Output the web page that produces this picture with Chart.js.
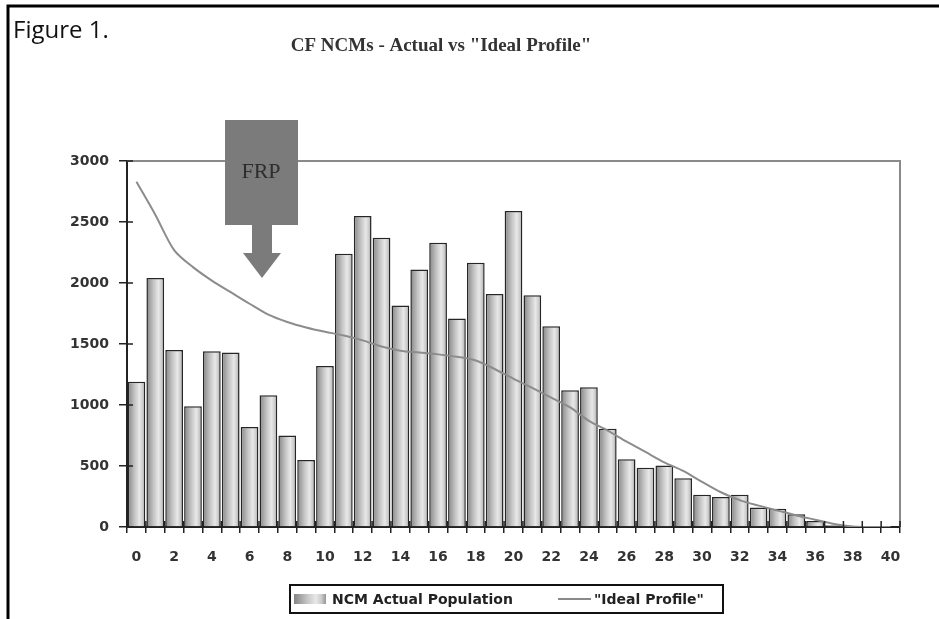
<!DOCTYPE html>
<html>
<head>
<meta charset="utf-8">
<title>CF NCMs - Actual vs "Ideal Profile"</title>
<script src="https://cdn.jsdelivr.net/npm/chart.js@4.4.1/dist/chart.umd.min.js"></script>
<style>
  html, body { margin: 0; padding: 0; background: #fff; }
  #grafico { display: block; }
</style>
</head>
<body>
<canvas id="grafico" width="939" height="619"></canvas>
<script>
// Categories (years of service 0..40)
const categorias = ['0', '1', '2', '3', '4', '5', '6', '7', '8', '9', '10',
    '11', '12', '13', '14', '15', '16', '17', '18', '19', '20',
    '21', '22', '23', '24', '25', '26', '27', '28', '29', '30',
    '31', '32', '33', '34', '35', '36', '37', '38', '39', '40'];

// NCM Actual Population (bars)
const poblacionActual = [1190, 2040, 1450, 990, 1440, 1430, 820, 1080, 750, 550, 1320,
    2240, 2550, 2370, 1815, 2110, 2330, 1710, 2165, 1910, 2590,
    1900, 1645, 1120, 1145, 805, 555, 485, 505, 400, 265,
    245, 265, 160, 150, 105, 50, 15, 5, 0, 0];

// "Ideal Profile" (line)
const perfilIdeal = [2830, 2560, 2270, 2130, 2020, 1925, 1830, 1740, 1680, 1635, 1600,
    1570, 1530, 1480, 1445, 1430, 1415, 1395, 1365, 1295, 1215,
    1140, 1060, 980, 870, 790, 700, 615, 530, 460, 370,
    285, 220, 175, 135, 95, 60, 25, 5, 0, 0];

// Y axis tick labels
const marcasY = [0, 500, 1000, 1500, 2000, 2500, 3000];

const etiquetaBarras = 'NCM Actual Population';
const etiquetaLinea = '"Ideal Profile"';
const tituloGrafico = 'CF NCMs - Actual vs "Ideal Profile"';

document.addEventListener('DOMContentLoaded', function() {
    var fuenteEjes = 'bold 14px "DejaVu Sans", Arial, sans-serif';

    // Gradient for the 3D-looking columns
    function rellenoBarra(x, w, ctx) {
        var g = ctx.createLinearGradient(x - w / 2, 0, x + w / 2, 0);
        g.addColorStop(0, '#858585');
        g.addColorStop(0.4, '#c4c4c4');
        g.addColorStop(0.68, '#e8e8e8');
        g.addColorStop(0.85, '#cdcdcd');
        g.addColorStop(1, '#959595');
        return g;
    }

    var decoraciones = {
        id: 'decoraciones',
        beforeDraw: function(chart) {
            var c = chart.ctx;
            c.save();
            c.fillStyle = '#fff';
            c.fillRect(0, 0, chart.width, chart.height);
            c.restore();
        },
        afterDraw: function(chart) {
            var c = chart.ctx;
            var a = chart.chartArea;
            var sy = chart.scales.y;
            c.save();

            // outer frame
            c.strokeStyle = '#000';
            c.lineWidth = 3;
            c.beginPath();
            c.moveTo(8, 619);
            c.lineTo(8, 6);
            c.lineTo(939, 6);
            c.stroke();

            // Figure 1.
            c.fillStyle = '#111';
            c.font = '24px "Liberation Sans Narrow", "Open Sans", sans-serif';
            c.textBaseline = 'alphabetic';
            c.textAlign = 'left';
            c.fillText('Figure 1.', 13, 38);

            // title
            c.fillStyle = '#333';
            c.font = 'bold 19px "Liberation Serif", "DejaVu Serif", serif';
            c.textAlign = 'center';
            c.fillText(tituloGrafico, 441, 51);

            // plot area border (top + right)
            c.strokeStyle = '#8a8a8a';
            c.lineWidth = 2;
            c.beginPath();
            c.moveTo(a.left, a.top);
            c.lineTo(a.right, a.top);
            c.lineTo(a.right, a.bottom);
            c.stroke();

            // inner half of the crossing tick marks
            c.strokeStyle = '#222';
            c.lineWidth = 1.5;
            c.beginPath();
            marcasY.forEach(function(v) {
                var y = sy.getPixelForValue(v);
                c.moveTo(a.left, y);
                c.lineTo(a.left + 6, y);
            });
            var ancho = (a.right - a.left) / categorias.length;
            for (var i = 0; i <= categorias.length; i++) {
                var xb = a.left + i * ancho;
                c.moveTo(xb, a.bottom);
                c.lineTo(xb, a.bottom - 6);
            }
            c.stroke();

            // FRP box with arrow
            c.fillStyle = '#7b7b7b';
            c.fillRect(225, 120, 73, 105);
            c.beginPath();
            c.moveTo(252, 225);
            c.lineTo(272, 225);
            c.lineTo(272, 253);
            c.lineTo(281, 253);
            c.lineTo(262, 278);
            c.lineTo(243, 253);
            c.lineTo(252, 253);
            c.closePath();
            c.fill();
            c.fillStyle = '#2e2e2e';
            c.font = '22px "Liberation Serif", "DejaVu Serif", serif';
            c.textAlign = 'center';
            c.textBaseline = 'middle';
            c.fillText('FRP', 261, 172);

            // legend
            c.fillStyle = '#fff';
            c.fillRect(290, 585, 433, 28);
            c.strokeStyle = '#111';
            c.lineWidth = 2;
            c.strokeRect(290, 585, 433, 28);
            c.fillStyle = rellenoBarra(310, 32, c);
            c.fillRect(294, 594, 32, 10);
            c.strokeStyle = '#8a8a8a';
            c.lineWidth = 2;
            c.beginPath();
            c.moveTo(558, 599);
            c.lineTo(591, 599);
            c.stroke();
            c.fillStyle = '#222';
            c.font = fuenteEjes;
            c.textAlign = 'left';
            c.textBaseline = 'middle';
            c.fillText(etiquetaBarras, 332, 600);
            c.fillText(etiquetaLinea, 594, 600);

            c.restore();
        }
    };

    var ctx1 = document.getElementById('grafico').getContext('2d');
    var perfilChart = new Chart(ctx1, {
        type: 'bar',
        data: {
            labels: categorias,
            datasets: [
                {
                    type: 'line',
                    label: etiquetaLinea,
                    data: perfilIdeal,
                    borderColor: '#8c8c8c',
                    borderWidth: 2,
                    pointRadius: 0,
                    tension: 0.3,
                    fill: false,
                    order: 0
                },
                {
                    label: etiquetaBarras,
                    data: poblacionActual,
                    backgroundColor: function(context) {
                        var chart = context.chart;
                        var a = chart.chartArea;
                        if (!a || !chart.scales.x) return '#c4c4c4';
                        var w = (a.right - a.left) / categorias.length * 0.94;
                        var x = chart.scales.x.getPixelForValue(context.dataIndex);
                        return rellenoBarra(x, w, chart.ctx);
                    },
                    borderColor: '#262626',
                    borderWidth: 1.5,
                    categoryPercentage: 1,
                    barPercentage: 0.94,
                    order: 1
                }
            ]
        },
        options: {
            responsive: false,
            animation: false,
            devicePixelRatio: 1,
            layout: {
                padding: { left: 0, right: 39, top: 161, bottom: 0 }
            },
            plugins: {
                legend: { display: false },
                title: { display: false },
                tooltip: { enabled: false }
            },
            scales: {
                x: {
                    offset: true,
                    grid: {
                        offset: true,
                        drawOnChartArea: false,
                        drawTicks: true,
                        tickLength: 6,
                        color: '#222',
                        lineWidth: 1.5
                    },
                    border: { color: '#222', width: 2 },
                    ticks: {
                        autoSkip: false,
                        maxRotation: 0,
                        padding: 16,
                        color: '#333',
                        font: { family: '"DejaVu Sans", Arial, sans-serif', size: 14, weight: 'bold' },
                        callback: function(value, index) {
                            return index % 2 === 0 ? categorias[index] : '';
                        }
                    },
                    afterFit: function(scale) { scale.height = 92; }
                },
                y: {
                    min: 0,
                    max: 3000,
                    grid: {
                        drawOnChartArea: false,
                        drawTicks: true,
                        tickLength: 8,
                        color: '#222',
                        lineWidth: 1.5
                    },
                    border: { color: '#222', width: 2 },
                    ticks: {
                        padding: 10,
                        color: '#333',
                        font: { family: '"DejaVu Sans", Arial, sans-serif', size: 14, weight: 'bold' },
                        callback: function(value) { return String(value); }
                    },
                    afterBuildTicks: function(axis) {
                        axis.ticks = marcasY.map(function(v) { return { value: v }; });
                    },
                    afterFit: function(scale) { scale.width = 127; }
                }
            }
        },
        plugins: [decoraciones]
    });
});
</script>
</body>
</html>
